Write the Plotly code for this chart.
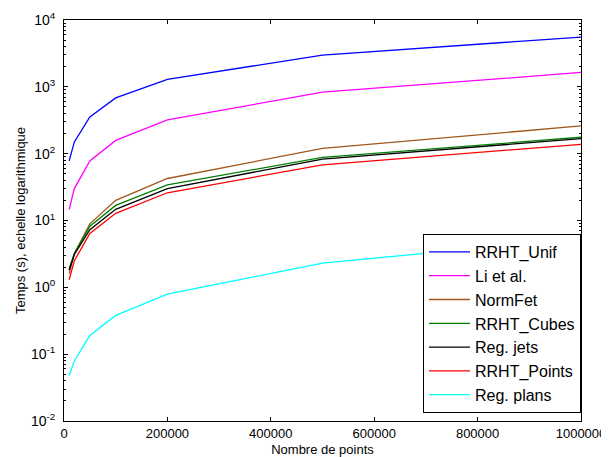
import plotly.graph_objects as go

x_points = [10000, 20000, 50000, 100000, 200000, 500000, 1000000]

series_names = ["RRHT_Unif", "Li et al.", "NormFet", "RRHT_Cubes", "Reg. jets", "RRHT_Points", "Reg. plans"]
rrht_unif = [78, 150, 355, 684, 1290, 2990, 5560]
li_et_al = [14.7, 30, 78, 158, 320, 832, 1640]
normfet = [1.6, 3.2, 8.9, 20, 42.5, 120, 260]
rrht_cubes = [1.9, 3.2, 8.2, 16.8, 34, 88, 176]
reg_jets = [1.8, 3.1, 7.3, 14.7, 30, 83, 168]
rrht_points = [1.3, 2.5, 6.4, 12.8, 26, 68, 138]
reg_plans = [0.048, 0.079, 0.19, 0.38, 0.79, 2.3, 5.4]

colors = ["#0000ff", "#ff00ff", "#a0581c", "#008000", "#000000", "#ff0000", "#00ffff"]
all_series = [rrht_unif, li_et_al, normfet, rrht_cubes, reg_jets, rrht_points, reg_plans]

x_ticks = [0, 200000, 400000, 600000, 800000, 1000000]
y_ticks = [0.01, 0.1, 1, 10, 100, 1000, 10000]
y_ticklabels = ["10<sup>-2</sup>", "10<sup>-1</sup>", "10<sup>0</sup>", "10<sup>1</sup>",
                "10<sup>2</sup>", "10<sup>3</sup>", "10<sup>4</sup>"]

fig = go.Figure()
for name, vals, col in zip(series_names, all_series, colors):
    fig.add_trace(go.Scatter(x=x_points, y=vals, mode="lines", name=name,
                             line=dict(color=col, width=1.3)))

font_family = "Liberation Sans, Arial, sans-serif"
fig.update_layout(
    width=601, height=449,
    margin=dict(l=56, r=28, t=12, b=36),
    paper_bgcolor="white", plot_bgcolor="white",
    font=dict(family=font_family, size=13, color="black"),
    showlegend=True,
    legend=dict(x=1, y=0.02, xanchor="right", yanchor="bottom",
                bgcolor="white", bordercolor="black", borderwidth=1,
                itemwidth=41, entrywidth=108, entrywidthmode="pixels",
                font=dict(size=16, family=font_family)),
    xaxis=dict(range=[0, 1000000], tickvals=x_ticks, ticktext=[str(v) for v in x_ticks],
               ticks="inside", ticklen=4, tickcolor="black", mirror="ticks",
               showline=True, linecolor="black", linewidth=1, showgrid=False, zeroline=False,
               ticklabeloverflow="allow",
               title=dict(text="Nombre de points", standoff=7, font=dict(size=13)),
               automargin=False),
    yaxis=dict(type="log", range=[-2, 4], tickvals=y_ticks, ticktext=y_ticklabels,
               ticks="inside", ticklen=4, tickcolor="black", mirror="ticks",
               showline=True, linecolor="black", linewidth=1, showgrid=False, zeroline=False,
               tickfont=dict(size=14), ticklabelstandoff=5,
               minor=dict(ticks="inside", ticklen=2, dtick="D1", tickcolor="black", showgrid=False),
               title=dict(text="Temps (s), echelle logarithmique", standoff=2, font=dict(size=13)),
               automargin=False),
)

fig.write_html("out.html")
